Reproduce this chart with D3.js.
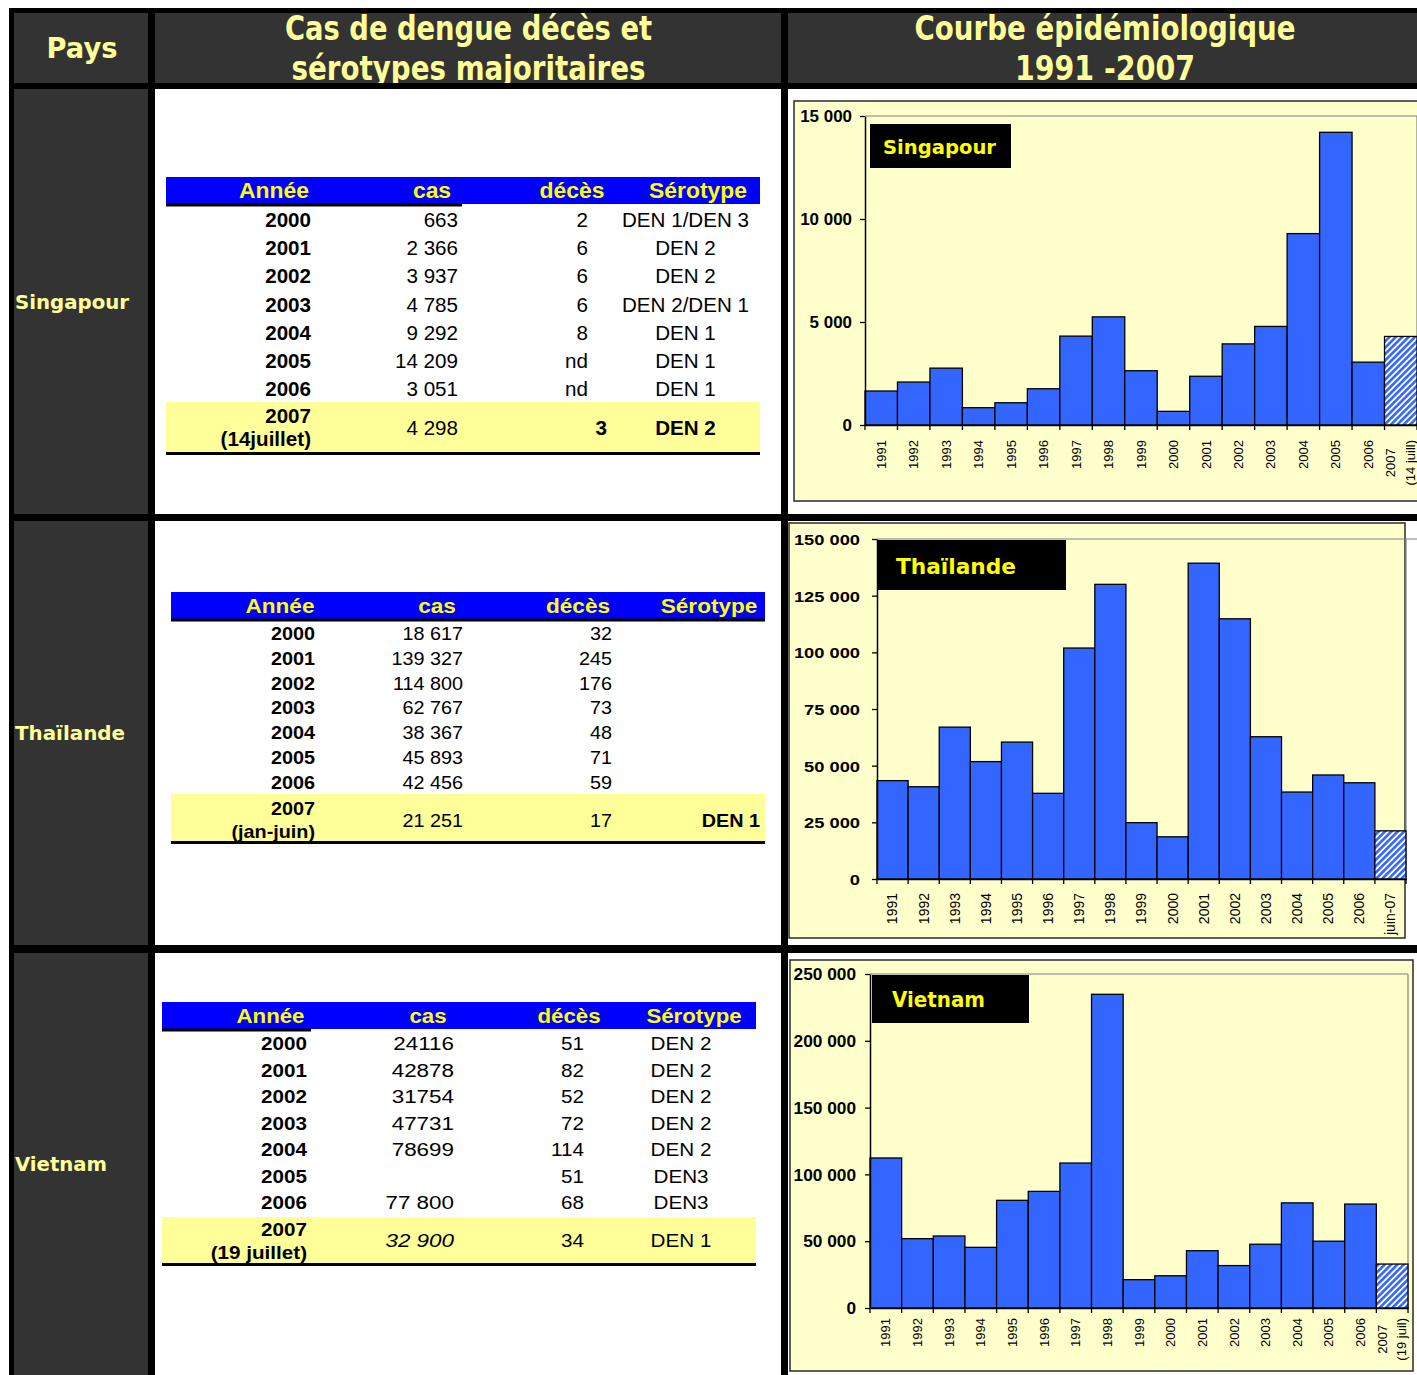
<!DOCTYPE html>
<html><head><meta charset="utf-8">
<script src="https://cdn.jsdelivr.net/npm/d3@7/dist/d3.min.js"></script>
<style>body{margin:0;background:#fff;} svg{display:block;}</style>
</head><body>
<svg id="c" width="1417" height="1375"></svg>
<script>
// ================= DATA =================
const years = ["1991","1992","1993","1994","1995","1996","1997","1998","1999","2000","2001","2002","2003","2004","2005","2006","2007"];
const sgCases = [1650, 2085, 2760, 840, 1080, 1760, 4315, 5250, 2635, 663, 2366, 3937, 4785, 9292, 14209, 3051, 4298];
const thCases = [43400, 40700, 67000, 51800, 60400, 37800, 101900, 130000, 24850, 18617, 139327, 114800, 62767, 38367, 45893, 42456, 21251];
const vnCases = [112300, 51900, 53900, 45400, 80600, 87300, 108500, 234800, 21200, 24116, 42878, 31754, 47731, 78699, 50000, 77800, 32900];
const sgLastLabel = ["2007", "(14 juill)"];
const thLastLabel = ["juin-07"];
const vnLastLabel = ["2007", "(19 juil)"];
const sgTicks = [0, 5000, 10000, 15000];
const thTicks = [0, 25000, 50000, 75000, 100000, 125000, 150000];
const vnTicks = [0, 50000, 100000, 150000, 200000, 250000];

const headerTitles = ["Pays", ["Cas de dengue décès et", "sérotypes majoritaires"], ["Courbe épidémiologique", "1991 -2007"]];
const countries = ["Singapour", "Thaïlande", "Vietnam"];
const tableHeaders = ["Année", "cas", "décès", "Sérotype"];

const sgYears = ["2000","2001","2002","2003","2004","2005","2006"];
const sgCas = ["663","2 366","3 937","4 785","9 292","14 209","3 051"];
const sgDeces = ["2","6","6","6","8","nd","nd"];
const sgSero = ["DEN 1/DEN 3","DEN 2","DEN 2","DEN 2/DEN 1","DEN 1","DEN 1","DEN 1"];
const sgLastRow = ["2007", "(14juillet)", "4 298", "3", "DEN 2"];

const thYears = ["2000","2001","2002","2003","2004","2005","2006"];
const thCas = ["18 617","139 327","114 800","62 767","38 367","45 893","42 456"];
const thDeces = ["32","245","176","73","48","71","59"];
const thSero = ["","","","","","",""];
const thLastRow = ["2007", "(jan-juin)", "21 251", "17", "DEN 1"];

const vnYears = ["2000","2001","2002","2003","2004","2005","2006"];
const vnCas = ["24116","42878","31754","47731","78699","","77 800"];
const vnDeces = ["51","82","52","72","114","51","68"];
const vnSero = ["DEN 2","DEN 2","DEN 2","DEN 2","DEN 2","DEN3","DEN3"];
const vnLastRow = ["2007", "(19 juillet)", "32 900", "34", "DEN 1"];

// ================= SETUP =================
const svg = d3.select("#c");
const SANS = "'Liberation Sans', Arial, Helvetica, sans-serif";
const VERD = "'DejaVu Sans', Verdana, sans-serif";
const fr = d3.formatLocale({decimal: ",", thousands: " ", grouping: [3], currency: ["", " €"]});
const fmt = fr.format(",");

const defs = svg.append("defs");
const pat = defs.append("pattern").attr("id", "hatch").attr("patternUnits", "userSpaceOnUse")
  .attr("width", 4.5).attr("height", 4.5).attr("patternTransform", "rotate(45)");
pat.append("rect").attr("width", 4.5).attr("height", 4.5).attr("fill", "#ffffff");
pat.append("rect").attr("width", 2.6).attr("height", 4.5).attr("fill", "#3366FF");

function txt(g, s, x, y, o) {
  return g.append("text")
    .attr("transform", `translate(${x},${y}) scale(${o.sx || 1},1)`)
    .attr("text-anchor", o.anchor || "start")
    .style("font-family", o.family || SANS)
    .style("font-size", o.fs + "px")
    .style("font-weight", o.bold ? "bold" : "normal")
    .style("font-style", o.italic ? "italic" : "normal")
    .attr("fill", o.fill || "#000")
    .text(s);
}

// ================= GRID =================
svg.append("rect").attr("x", 9).attr("y", 8).attr("width", 1408).attr("height", 1367).attr("fill", "#000");
const colX = [[14, 148], [155, 781], [788, 1417]];
const rowY = [[13, 83], [89, 514], [521, 945], [953, 1375]];
rowY.forEach((r, ri) => {
  colX.forEach((c, ci) => {
    const dark = ri === 0 || ci === 0;
    svg.append("rect").attr("x", c[0]).attr("y", r[0]).attr("width", c[1] - c[0]).attr("height", r[1] - r[0])
      .attr("fill", dark ? "#333333" : "#ffffff");
  });
});
colX.forEach((c, ci) => {
  defs.append("clipPath").attr("id", "hc" + ci).append("rect")
    .attr("x", c[0]).attr("y", rowY[0][0]).attr("width", c[1] - c[0]).attr("height", rowY[0][1] - rowY[0][0]);
});

// header texts
const HY = "#FFFF99";
svg.append("g").attr("clip-path", "url(#hc0)").append("text")
  .attr("x", 82).attr("y", 58).attr("text-anchor", "middle").attr("textLength", 71).attr("lengthAdjust", "spacingAndGlyphs")
  .style("font-family", VERD).style("font-weight", "bold").style("font-size", "28px").attr("fill", HY).text(headerTitles[0]);
const hdrLayout = [null, {cx: 468.5, w: [367, 354]}, {cx: 1105, w: [381, 180]}];
[1, 2].forEach(ci => {
  const g = svg.append("g").attr("clip-path", `url(#hc${ci})`);
  headerTitles[ci].forEach((line, li) => {
    g.append("text").attr("x", hdrLayout[ci].cx).attr("y", li === 0 ? 40 : 80).attr("text-anchor", "middle")
      .attr("textLength", hdrLayout[ci].w[li]).attr("lengthAdjust", "spacingAndGlyphs")
      .style("font-family", VERD).style("font-weight", "bold").style("font-size", "33px").attr("fill", HY).text(line);
  });
});

// country names
const countryLayout = [{y: 309, w: 114}, {y: 740, w: 110}, {y: 1171, w: 92}];
countries.forEach((c, i) => {
  svg.append("text").attr("x", 15).attr("y", countryLayout[i].y).attr("textLength", countryLayout[i].w)
    .attr("lengthAdjust", "spacingAndGlyphs")
    .style("font-family", VERD).style("font-weight", "bold").style("font-size", "20px").attr("fill", HY).text(c);
});

// ================= TABLES =================
function table(L, yrs, cas, dec, sero, last) {
  const g = svg.append("g");
  const [bx, by, bw, bh] = L.bar;
  g.append("rect").attr("x", bx).attr("y", by).attr("width", bw).attr("height", bh).attr("fill", "#0000FF");
  g.append("rect").attr("x", bx).attr("y", by + bh - 0.5).attr("width", L.lineW).attr("height", 3).attr("fill", "#000");
  tableHeaders.forEach((h, i) => txt(g, h, L.hx[i], L.hBase, {fs: L.hfs, sx: L.hsx, bold: true, anchor: "middle", fill: "#FFFF00"}));
  yrs.forEach((yv, i) => {
    const b = L.base0 + i * L.step;
    txt(g, yv, L.yearR, b, {fs: L.fs, sx: L.sx, bold: true, anchor: "end"});
    txt(g, cas[i], L.casR, b, {fs: L.casFs || L.fs, sx: L.casSx || L.sx, anchor: "end"});
    txt(g, dec[i], L.decR, b, {fs: L.fs, sx: L.sx, anchor: "end"});
    if (sero[i]) txt(g, sero[i], L.seroX, b, {fs: L.fs, sx: L.sx, anchor: "middle"});
  });
  // highlighted last row
  g.append("rect").attr("x", bx).attr("y", L.hl[0]).attr("width", bw).attr("height", L.hl[1] - L.hl[0]).attr("fill", "#FFFF99");
  g.append("rect").attr("x", bx).attr("y", L.hl[1]).attr("width", bw).attr("height", 3).attr("fill", "#000");
  txt(g, last[0], L.yearR, L.lastY[0], {fs: L.fs, sx: L.sx, bold: true, anchor: "end"});
  txt(g, last[1], L.yearR, L.lastY[1], {fs: L.fs, sx: L.sx, bold: true, anchor: "end"});
  txt(g, last[2], L.casR, L.lastBase, {fs: L.casFs || L.fs, sx: L.casSx || L.sx, anchor: "end", italic: L.lastCasItalic});
  txt(g, last[3], L.lastDecR, L.lastBase, {fs: L.fs, sx: L.sx, anchor: "end", bold: L.lastDecBold});
  txt(g, last[4], L.lastSeroX, L.lastBase, {fs: L.fs, sx: L.sx, anchor: L.lastSeroAnchor, bold: L.lastSeroBold});
}

table({bar: [166, 177, 594, 27], lineW: 296, hx: [274, 432, 572, 698], hBase: 198, hfs: 22, hsx: 1.04,
  base0: 227, step: 28.17, fs: 20, sx: 1.03, yearR: 311, casR: 458, decR: 588, seroX: 685.5,
  hl: [402, 452], lastY: [423, 446], lastBase: 435, lastDecR: 607, lastDecBold: true,
  lastSeroX: 685.5, lastSeroAnchor: "middle", lastSeroBold: true}, sgYears, sgCas, sgDeces, sgSero, sgLastRow);

table({bar: [171, 592, 594, 27], lineW: 594, hx: [280, 437, 578, 709], hBase: 613, hfs: 20.5, hsx: 1.1,
  base0: 640, step: 24.8, fs: 18, sx: 1.1, yearR: 315, casR: 463, decR: 612, seroX: 700,
  hl: [794, 841], lastY: [815, 838], lastBase: 827, lastDecR: 612, lastDecBold: false,
  lastSeroX: 760, lastSeroAnchor: "end", lastSeroBold: true}, thYears, thCas, thDeces, thSero, thLastRow);

table({bar: [162, 1002, 594, 27], lineW: 149, hx: [270.5, 428, 569, 694], hBase: 1023, hfs: 21, hsx: 1.06,
  base0: 1050, step: 26.5, fs: 17.5, sx: 1.18, casFs: 19, casSx: 1.18, yearR: 307, casR: 454, decR: 584, seroX: 681,
  hl: [1217, 1263], lastY: [1236, 1259], lastBase: 1247, lastCasItalic: true, lastDecR: 584, lastDecBold: false,
  lastSeroX: 681, lastSeroAnchor: "middle", lastSeroBold: false}, vnYears, vnCas, vnDeces, vnSero, vnLastRow);

// ================= CHARTS =================
function chart(C, values, lastLabel, ticks) {
  const g = svg.append("g");
  g.append("rect").attr("x", C.box[0]).attr("y", C.box[1]).attr("width", C.box[2]).attr("height", C.box[3])
    .attr("fill", "#FFFFCC").attr("stroke", "#2a2a2a").attr("stroke-width", 1.5);
  const x = d3.scaleBand().domain(years).range([C.px, C.px + C.pw]).padding(0);
  const y = d3.scaleLinear().domain([0, d3.max(ticks)]).range([C.py + C.ph, C.py]);
  // plot area frame (top / right)
  g.append("line").attr("x1", C.px).attr("x2", C.topEnd || (C.px + C.pw)).attr("y1", y(d3.max(ticks))).attr("y2", y(d3.max(ticks)))
    .attr("stroke", "#808080").attr("stroke-width", 1.2);
  g.append("line").attr("x1", C.px + C.pw).attr("x2", C.px + C.pw).attr("y1", y(d3.max(ticks))).attr("y2", y(0))
    .attr("stroke", "#808080").attr("stroke-width", 1.2);
  // bars
  g.selectAll("rect.bar").data(values).join("rect").attr("class", "bar")
    .attr("x", (d, i) => x(years[i])).attr("y", d => y(d))
    .attr("width", x.bandwidth()).attr("height", d => y(0) - y(d))
    .attr("fill", (d, i) => i === years.length - 1 ? "url(#hatch)" : "#3366FF")
    .attr("stroke", "#000").attr("stroke-width", 1.3);
  // y axis
  const ya = g.append("g").attr("transform", `translate(${C.px},0)`)
    .call(d3.axisLeft(y).tickValues(ticks).tickSize(5).tickSizeOuter(0).tickFormat(fmt));
  ya.select(".domain").attr("stroke", "#000").attr("stroke-width", 1.5);
  ya.selectAll(".tick line").attr("stroke", "#000").attr("stroke-width", 1.3);
  ya.selectAll(".tick text").attr("x", null)
    .attr("transform", `translate(${-C.ylGap},0) scale(${C.ysx},1)`)
    .attr("dy", "0.36em")
    .style("font-family", SANS).style("font-weight", "bold").style("font-size", C.yfs + "px").attr("fill", "#000");
  // x axis
  const xa = g.append("g").attr("transform", `translate(0,${y(0)})`)
    .call(d3.axisBottom(x).tickSize(0).tickSizeOuter(0).tickFormat((d, i) => i === years.length - 1 ? "" : d));
  xa.select(".domain").attr("stroke", "#000").attr("stroke-width", 1.5);
  const bounds = years.map(v => x(v)).concat([x(years[years.length - 1]) + x.bandwidth()]);
  xa.selectAll("line.bd").data(bounds).join("line").attr("class", "bd")
    .attr("x1", d => d).attr("x2", d => d).attr("y1", 0).attr("y2", 5).attr("stroke", "#000").attr("stroke-width", 1.3);
  xa.selectAll(".tick text")
    .attr("transform", "rotate(-90)").attr("x", -C.xlOff).attr("y", 0).attr("dy", "0.35em")
    .attr("text-anchor", "end")
    .style("font-family", SANS).style("font-size", C.xfs + "px").attr("fill", "#000");
  // last (multi-line) label
  const lastTick = xa.selectAll(".tick").filter((d, i) => i === years.length - 1);
  const lt = lastTick.select("text").attr("text-anchor", "middle").attr("dy", null);
  if (lastLabel.length === 1) {
    lt.attr("text-anchor", "end").attr("dy", "0.35em").text(lastLabel[0]);
  } else {
    const sp = C.lineSp;
    const spans = lastLabel.map((s, li) => lt.append("tspan").attr("y", (li - (lastLabel.length - 1) / 2) * sp).attr("dy", "0.35em").text(s));
    const maxLen = d3.max(spans, s => s.node().getComputedTextLength());
    spans.forEach(s => s.attr("x", -(C.xlOff + maxLen / 2)));
  }
  // title box
  g.append("rect").attr("x", C.tb[0]).attr("y", C.tb[1]).attr("width", C.tb[2]).attr("height", C.tb[3]).attr("fill", "#000");
  g.append("text").attr("x", C.tt[0]).attr("y", C.tt[1]).attr("textLength", C.tt[2]).attr("lengthAdjust", "spacingAndGlyphs")
    .style("font-family", VERD).style("font-weight", "bold").style("font-size", C.tt[3] + "px").attr("fill", "#FFFF00").text(C.title);
}

chart({box: [794, 101, 660, 400], px: 865, pw: 552, py: 116, ph: 309, ylGap: 13, ysx: 1.06, yfs: 16,
  xlOff: 15, xfs: 13, lineSp: 20, tb: [870, 124, 141, 44], tt: [883, 154, 113, 20], title: countries[0]},
  sgCases, sgLastLabel, sgTicks);

chart({box: [789, 523, 616, 415], px: 877, pw: 529, py: 539, ph: 340, topEnd: 1417, ylGap: 17, ysx: 1.18, yfs: 15.5,
  xlOff: 14, xfs: 14, lineSp: 19, tb: [877, 540, 189, 50], tt: [896, 574, 120, 22], title: countries[1]},
  thCases, thLastLabel, thTicks);

chart({box: [790, 960, 623, 411], px: 870, pw: 538, py: 974, ph: 334, ylGap: 14, ysx: 1.08, yfs: 16,
  xlOff: 10, xfs: 13, lineSp: 19, tb: [872, 975, 157, 48], tt: [892, 1007, 93, 21], title: countries[2]},
  vnCases, vnLastLabel, vnTicks);
</script>
</body></html>
